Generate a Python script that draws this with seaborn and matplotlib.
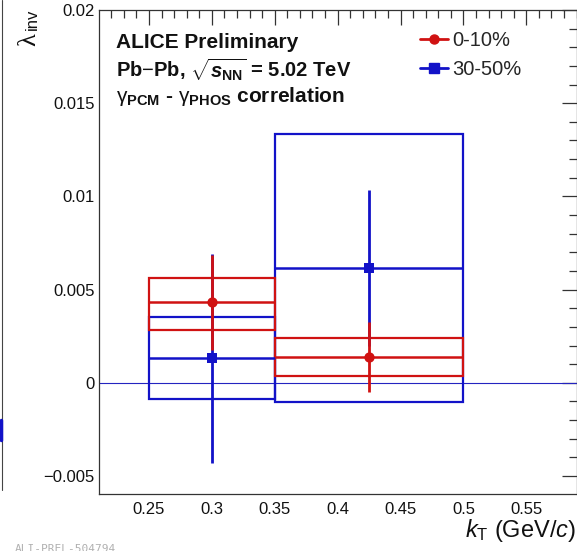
import numpy as np
import pandas as pd
import matplotlib
matplotlib.use("Agg")
import matplotlib.pyplot as plt
import seaborn as sns
from matplotlib.patches import Rectangle
from matplotlib.lines import Line2D
from matplotlib.ticker import MultipleLocator

# ---------------- data ----------------
centrality = ["0-10%", "30-50%"]
kt_center = [0.3, 0.425]
kt_low = [0.25, 0.35]
kt_high = [0.35, 0.5]

lam_0_10 = [0.00432, 0.00140]
stat_0_10 = [0.00255, 0.00188]
sys_lo_0_10 = [0.00284, 0.00037]
sys_hi_0_10 = [0.00565, 0.00239]

lam_30_50 = [0.00132, 0.00617]
stat_30_50 = [0.00560, 0.00420]
sys_lo_30_50 = [-0.00087, -0.00105]
sys_hi_30_50 = [0.00351, 0.01336]

colors = {"0-10%": "#d01212", "30-50%": "#1212c8"}
markers = {"0-10%": "o", "30-50%": "s"}

rows = []
for c, lam, st, lo, hi in [("0-10%", lam_0_10, stat_0_10, sys_lo_0_10, sys_hi_0_10),
                            ("30-50%", lam_30_50, stat_30_50, sys_lo_30_50, sys_hi_30_50)]:
    for i in range(len(kt_center)):
        rows.append(dict(cent=c, kt=kt_center[i], lam=lam[i], stat=st[i],
                         lo=lo[i], hi=hi[i], xl=kt_low[i], xh=kt_high[i]))
df = pd.DataFrame(rows)

# ---------------- style ----------------
sns.set_theme(style="white")
plt.rcParams["font.family"] = ["Liberation Sans", "DejaVu Sans"]
plt.rcParams["mathtext.fontset"] = "custom"
plt.rcParams["mathtext.rm"] = "Liberation Sans"
plt.rcParams["mathtext.it"] = "Liberation Sans:italic"
plt.rcParams["mathtext.bf"] = "Liberation Sans:bold"
plt.rcParams["mathtext.bfit"] = "Liberation Sans:italic:bold"

W, H = 577, 551
fig = plt.figure(figsize=(W / 100, H / 100), dpi=100)
fig.patch.set_facecolor("white")
left, right, top, bottom = 99, 577, 10, 494.3
ax = fig.add_axes([left / W, 1 - bottom / H, (right - left) / W, (bottom - top) / H])

ax.set_xlim(0.2103, 0.5903)
ax.set_ylim(-0.00598, 0.02)

# zero line
ax.axhline(0, color="#2424c0", lw=0.8, zorder=1)

# draw 30-50% first, then 0-10% on top
for c in ["30-50%", "0-10%"]:
    sub = df[df.cent == c]
    col = colors[c]
    for _, r in sub.iterrows():
        ax.add_patch(Rectangle((r.xl, r.lo), r.xh - r.xl, r.hi - r.lo, fill=False,
                               edgecolor=col, lw=1.6, zorder=2))
        ax.hlines(r.lam, r.xl, r.xh, color=col, lw=1.8, zorder=3)
    ax.errorbar(sub.kt, sub.lam, yerr=sub.stat, fmt="none", ecolor=col,
                elinewidth=2.0, capsize=0, zorder=4)
    sns.scatterplot(x=sub.kt, y=sub.lam, ax=ax, color=col, marker=markers[c],
                    s=55, edgecolor=col, linewidth=0, zorder=5, legend=False)

# axes styling (ROOT-like)
for s in ax.spines.values():
    s.set_color("#333333")
    s.set_linewidth(0.9)
ax.xaxis.set_major_locator(MultipleLocator(0.05))
ax.xaxis.set_minor_locator(MultipleLocator(0.01))
ax.yaxis.set_major_locator(MultipleLocator(0.005))
ax.yaxis.set_minor_locator(MultipleLocator(0.001))
ax.tick_params(which="both", direction="in", top=True, right=True, color="#333333",
               width=0.9, labelsize=12, labelcolor="#111111")
ax.tick_params(which="major", length=10.5)
ax.tick_params(which="minor", length=5.5)
ax.tick_params(axis="x", pad=5.5)
ax.tick_params(axis="y", pad=3)

def xfmt(v, pos):
    return f"{v:.2f}".rstrip("0")
def yfmt(v, pos):
    if abs(v) < 1e-12:
        return "0"
    return f"{v:.3f}".rstrip("0").replace("-", "\u2212")
ax.xaxis.set_major_formatter(plt.FuncFormatter(xfmt))
ax.yaxis.set_major_formatter(plt.FuncFormatter(yfmt))
ax.set_xlabel("")
ax.set_ylabel("")

# axis titles
fig.text(576 / W, 1 - 531 / H, r"$k_{\mathrm{T}}$ (GeV/$c$)", ha="right", va="center",
         fontsize=17, color="#111111")
fig.text(29.5 / W, 1 - 40 / H, "\u03bb", rotation=90, ha="center", va="center",
         fontsize=19, family="Liberation Serif", color="#111111")
fig.text(32.5 / W, 1 - 19 / H, "inv", rotation=90, ha="center", va="center",
         fontsize=12, color="#111111")

# labels
fig.text(116 / W, 1 - 42 / H, "ALICE Preliminary", fontsize=15, fontweight="bold",
         ha="left", va="center", color="#111111")
fig.text(116 / W, 1 - 70 / H, r"Pb$-$Pb, $\sqrt{\mathbfit{s}_{\mathbf{NN}}}$ = 5.02 TeV",
         fontsize=14.5, fontweight="bold", ha="left", va="center", color="#111111")
fig.text(116 / W, 1 - 96 / H,
         r"$\mathrm{\gamma}_{\mathbf{PCM}}$ - $\mathrm{\gamma}_{\mathbf{PHOS}}$ correlation",
         fontsize=15, fontweight="bold", ha="left", va="center", color="#111111")

# legend
handles = [Line2D([], [], color=colors[c], marker=markers[c], lw=2, markersize=6.5)
           for c in centrality]
fig.legend(handles, centrality, loc="upper left", bbox_to_anchor=(420 / W, 1 - 31 / H),
           frameon=False, fontsize=14.5, handlelength=1.4, handletextpad=0.2,
           labelspacing=0.48, borderaxespad=0, borderpad=0)

# cut-off neighbour panel and watermark
fig.add_artist(Line2D([1.5 / W, 1.5 / W], [1 - 0 / H, 1 - 490 / H], color="#444444", lw=0.8,
                      transform=fig.transFigure))
fig.add_artist(Line2D([1 / W, 1 / W], [1 - 420 / H, 1 - 440 / H], color="#1212c8", lw=2.5,
                      transform=fig.transFigure))
fig.text(15 / W, 1 - 549 / H, "ALI-PREL-504794", fontsize=8, family="DejaVu Sans Mono",
         color="#b0b0b0", ha="left", va="center")

fig.savefig("out.png", dpi=100)
